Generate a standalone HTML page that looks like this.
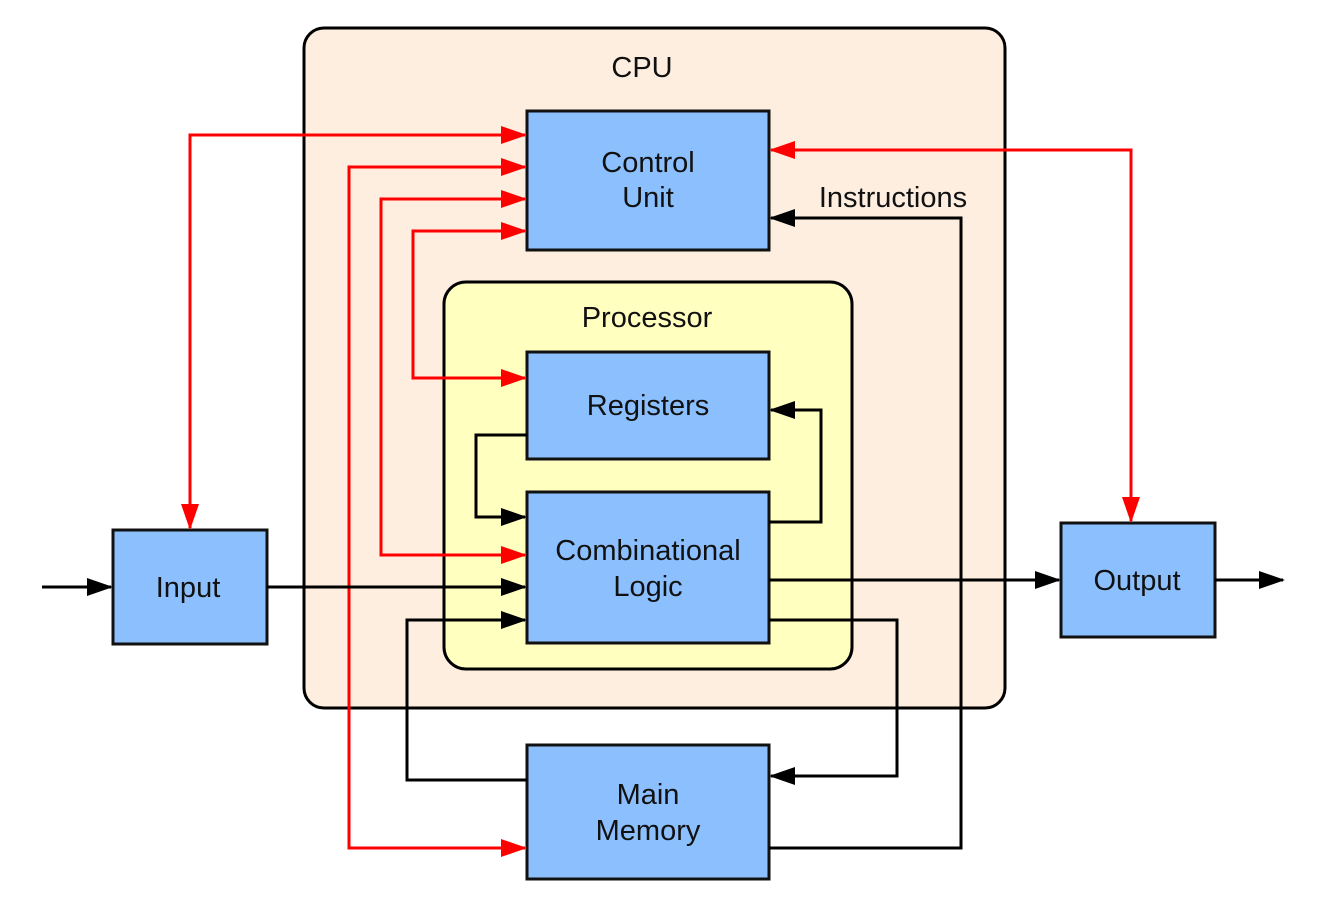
<!DOCTYPE html>
<html><head><style>body{margin:0;background:#fff}svg{display:block}text{font-family:"Liberation Sans",sans-serif;font-size:29px;fill:#111;text-anchor:middle}</style></head><body>
<svg width="1320" height="916" viewBox="0 0 1320 916">
<defs>
<marker id="r" markerWidth="26" markerHeight="18" refX="24" refY="9" orient="auto-start-reverse" markerUnits="userSpaceOnUse"><path d="M0,0 L26,9 L0,18 Z" fill="#f00"/></marker>
<marker id="b" markerWidth="26" markerHeight="18" refX="24" refY="9" orient="auto-start-reverse" markerUnits="userSpaceOnUse"><path d="M0,0 L26,9 L0,18 Z" fill="#000"/></marker>
</defs>
<rect x="304" y="28" width="701" height="680" rx="20" fill="#fdeee0" stroke="#000" stroke-width="3"/>
<rect x="444" y="282" width="408" height="387" rx="22" fill="#ffffc0" stroke="#000" stroke-width="3"/>
<g fill="#8bbffe" stroke="#111" stroke-width="3">
<rect x="527" y="111" width="242" height="139"/>
<rect x="527" y="352" width="242" height="107"/>
<rect x="527" y="492" width="242" height="151"/>
<rect x="113" y="530" width="154" height="114"/>
<rect x="1061" y="523" width="154" height="114"/>
<rect x="527" y="745" width="242" height="134"/>
</g>
<g fill="none" stroke="#f00" stroke-width="3">
<path d="M190,528 V135 H525" marker-start="url(#r)" marker-end="url(#r)"/>
<path d="M525,848 H349 V167 H525" marker-start="url(#r)" marker-end="url(#r)"/>
<path d="M525,555 H381 V199 H525" marker-start="url(#r)" marker-end="url(#r)"/>
<path d="M525,378 H413 V231 H525" marker-start="url(#r)" marker-end="url(#r)"/>
<path d="M771,150 H1131 V521" marker-start="url(#r)" marker-end="url(#r)"/>
</g>
<g fill="none" stroke="#000" stroke-width="3">
<path d="M42,587 H111" marker-end="url(#b)"/>
<path d="M267,587 H525" marker-end="url(#b)"/>
<path d="M769,848 H961 V218 H771" marker-end="url(#b)"/>
<path d="M527,435 H476 V517 H525" marker-end="url(#b)"/>
<path d="M769,522 H821 V410 H771" marker-end="url(#b)"/>
<path d="M769,580 H1059" marker-end="url(#b)"/>
<path d="M1215,580 H1283" marker-end="url(#b)"/>
<path d="M769,620 H897 V776 H771" marker-end="url(#b)"/>
<path d="M527,780 H407 V620 H525" marker-end="url(#b)"/>
</g>
<text x="642" y="77">CPU</text>
<text x="647" y="327">Processor</text>
<text x="648" y="172">Control</text><text x="648" y="207">Unit</text>
<text x="648" y="415">Registers</text>
<text x="648" y="560">Combinational</text><text x="648" y="596">Logic</text>
<text x="188" y="597">Input</text>
<text x="1137" y="590">Output</text>
<text x="648" y="804">Main</text><text x="648" y="840">Memory</text>
<text x="893" y="207">Instructions</text>
</svg>
</body></html>
